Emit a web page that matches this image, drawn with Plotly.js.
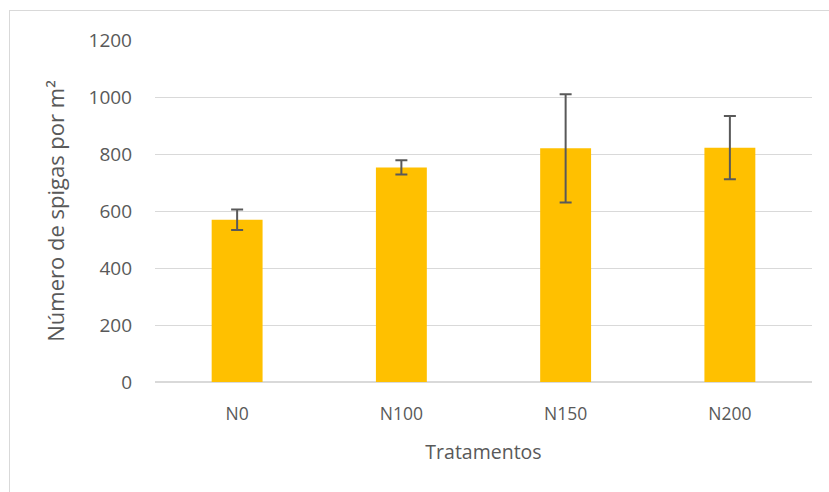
<!DOCTYPE html>
<html>
<head>
<meta charset="utf-8">
<script src="https://cdn.plot.ly/plotly-3.0.1.min.js"></script>
<style>
html,body{margin:0;padding:0;background:#fff;}
#wrap{position:relative;width:829px;height:492px;}
#chart{position:absolute;left:0;top:0;width:829px;height:492px;}
#frame{position:absolute;left:9px;top:10px;width:840px;height:500px;border-top:1.5px solid #D9D9D9;border-left:1.5px solid #D9D9D9;pointer-events:none;}
</style>
</head>
<body>
<div id="wrap"><div id="chart"></div><div id="frame"></div></div>
<script>
var categories = ["N0", "N100", "N150", "N200"];
var values = [569, 753, 820, 822];
var errors = [36, 25, 190, 111];
var yTicks = [0, 200, 400, 600, 800, 1000, 1200];

var font = "'Open Sans', 'Noto Sans', sans-serif";
var trace = {
  type: "bar",
  x: categories,
  y: values,
  marker: {color: "#FFC000"},
  error_y: {type: "data", array: errors, visible: true, color: "#595959", thickness: 2, width: 6},
  hoverinfo: "none"
};
var layout = {
  width: 829, height: 492,
  margin: {l: 155, r: 17, t: 40, b: 109.5},
  paper_bgcolor: "rgba(0,0,0,0)",
  plot_bgcolor: "#fff",
  showlegend: false,
  bargap: 0.69,
  font: {family: font, color: "#595959", size: 18},
  xaxis: {
    showgrid: false, zeroline: false, showline: false, ticks: "",
    ticklabelstandoff: 19,
    tickfont: {size: 17.5, color: "#595959"},
    title: {text: "Tratamentos", font: {size: 19.5, color: "#595959"}, standoff: 21}
  },
  yaxis: {
    range: [0, 1200], tickvals: yTicks, ticktext: yTicks.map(String),
    showgrid: true, gridcolor: "#D9D9D9", gridwidth: 1,
    zeroline: true, zerolinecolor: "#D9D9D9", zerolinewidth: 1.5,
    showline: false, ticks: "", ticklabelstandoff: 22,
    tickfont: {size: 19, color: "#595959"},
    title: {text: "Número de spigas por m²", font: {size: 22, color: "#595959"}, standoff: 17}
  }
};
Plotly.newPlot("chart", [trace], layout, {staticPlot: true, displayModeBar: false});
</script>
</body>
</html>
